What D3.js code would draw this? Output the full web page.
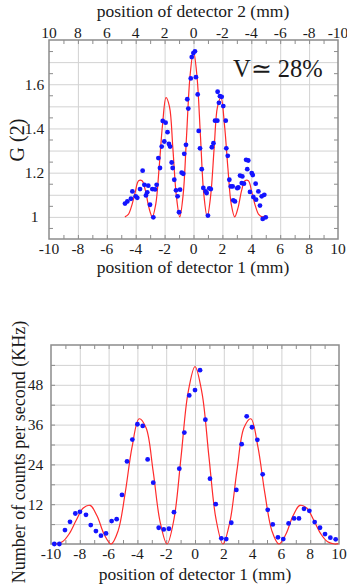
<!DOCTYPE html>
<html>
<head>
<meta charset="utf-8">
<script src="https://cdn.jsdelivr.net/npm/d3@7"></script>
<style>
  body { margin: 0; background: #fff; }
  svg text { font-family: 'Liberation Serif', 'Times New Roman', serif; fill: #1a1a1a; }
</style>
</head>
<body>
<script>
// ---- upper panel: G(2) correlation vs detector position ----
const topDotX = [-4.74, -4.58, -4.33, -4.23, -4.0, -3.89, -3.7, -3.52, -3.4, -3.29, -3.2, -3.13, -3.01, -2.85, -2.78, -2.66, -2.55, -2.43, -2.32, -2.2, -2.13, -2.02, -1.93, -1.8, -1.7, -1.62, -1.51, -1.44, -1.33, -1.21, -1.1, -1.0, -0.93, -0.82, -0.71, -0.64, -0.52, -0.43, -0.36, -0.19, -0.12, -0.01, 0.1, 0.17, 0.29, 0.36, 0.45, 0.57, 0.68, 0.84, 0.91, 1.0, 1.09, 1.2, 1.27, 1.38, 1.49, 1.65, 1.67, 1.76, 1.83, 1.95, 2.06, 2.23, 2.27, 2.37, 2.48, 2.58, 2.71, 2.75, 2.87, 3.03, 3.1, 3.22, 3.34, 3.38, 3.49, 3.64, 3.72, 3.79, 3.91, 4.03, 4.1, 4.14, 4.3, 4.33, 4.49, 4.6, 4.72, 4.79, 4.9, 5.0];
const topDotG = [1.06, 1.07, 1.082, 1.115, 1.093, 1.086, 1.126, 1.209, 1.145, 1.097, 1.111, 1.141, 1.055, 1.126, 0.998, 1.124, 1.145, 1.266, 1.221, 1.318, 1.434, 1.341, 1.426, 1.383, 1.33, 1.318, 1.246, 1.221, 1.168, 1.12, 1.093, 1.021, 1.123, 1.2, 1.195, 1.285, 1.326, 1.532, 1.49, 1.626, 1.723, 1.741, 1.749, 1.632, 1.554, 1.389, 1.31, 1.216, 1.131, 1.115, 1.108, 1.006, 1.129, 1.126, 1.315, 1.333, 1.435, 1.435, 1.566, 1.516, 1.546, 1.543, 1.501, 1.435, 1.31, 1.276, 1.168, 1.138, 1.138, 1.075, 1.07, 1.13, 1.133, 1.187, 1.153, 1.183, 1.15, 1.258, 1.216, 1.255, 1.113, 1.198, 1.189, 1.09, 1.15, 1.078, 1.115, 1.051, 1.093, 0.991, 1.1, 0.998];
const topFitX = [-4.75, -4.51, -4.28, -4.04, -3.8, -3.56, -3.33, -3.09, -2.85, -2.61, -2.38, -2.14, -1.9, -1.66, -1.43, -1.19, -0.95, -0.71, -0.48, -0.24, 0, 0.24, 0.48, 0.71, 0.95, 1.19, 1.43, 1.66, 1.9, 2.14, 2.38, 2.61, 2.85, 3.09, 3.33, 3.56, 3.8, 4.04, 4.28, 4.51, 4.75, 5.0];
const topFitG = [1.0, 1.011, 1.05, 1.11, 1.163, 1.163, 1.12, 1.043, 1.0, 1.058, 1.221, 1.419, 1.539, 1.498, 1.312, 1.097, 1.0, 1.105, 1.367, 1.637, 1.75, 1.637, 1.367, 1.105, 1.0, 1.097, 1.312, 1.498, 1.539, 1.419, 1.221, 1.058, 1.0, 1.043, 1.12, 1.163, 1.163, 1.11, 1.05, 1.011, 1.0, 1.005];
const topLabelsX = [-10, -8, -6, -4, -2, 0, 2, 4, 6, 8, 10];
const topLabelsX2 = [10, 8, 6, 4, 2, 0, -2, -4, -6, -8, -10];
const topLabelsY = [1, 1.2, 1.4, 1.6];

// ---- lower panel: single-detector count rate ----
const botDotX = [-9.77, -9.42, -9.03, -8.68, -8.31, -7.99, -7.57, -7.24, -6.88, -6.53, -6.18, -5.79, -5.44, -5.07, -4.72, -4.35, -4.0, -3.63, -3.29, -2.9, -2.52, -2.17, -1.81, -1.46, -1.09, -0.74, -0.4, 0, 0.35, 0.72, 1.04, 1.44, 1.83, 2.17, 2.52, 2.87, 3.24, 3.59, 3.96, 4.33, 4.7, 5.05, 5.4, 5.76, 6.13, 6.5, 6.88, 7.22, 7.57, 7.94, 8.31, 8.68, 9.03, 9.4, 9.77];
const botDotRate = [0, 0, 4.2, 6.7, 9.2, 9.7, 8.8, 5.7, 3.9, 2.5, 3.2, 6.9, 7.5, 14.8, 24.9, 31.5, 36.1, 35.6, 25.5, 18.5, 4.9, 4.4, 4.6, 9.6, 22.7, 33.6, 44.8, 46.4, 52.4, 37.5, 19.7, 12.0, 1.7, 1.5, 6.4, 16.3, 30.1, 38.5, 35.2, 31.4, 21, 10.3, 5.9, 2.0, 1.5, 6.2, 7.7, 7.7, 10.6, 10, 6.6, 4.9, 3.0, 1.9, 1.4];
const botFitX = [-9.7, -9.21, -8.73, -8.25, -7.76, -7.28, -6.79, -6.31, -5.82, -5.34, -4.85, -4.37, -3.88, -3.4, -2.91, -2.43, -1.94, -1.46, -0.97, -0.49, 0, 0.49, 0.97, 1.46, 1.94, 2.43, 2.91, 3.4, 3.88, 4.37, 4.85, 5.34, 5.82, 6.31, 6.79, 7.28, 7.76, 8.25, 8.73, 9.21, 9.7, 9.95];
const botFitRate = [0, 0.65, 3.12, 7.16, 10.86, 11.63, 8.34, 2.92, 0, 3.96, 15.34, 29.25, 37.76, 35.03, 22.05, 6.85, 0, 7.47, 26.2, 45.43, 53.5, 45.43, 26.2, 7.47, 0, 6.85, 22.05, 35.03, 37.76, 29.25, 15.34, 3.96, 0, 2.92, 8.34, 11.63, 10.86, 7.16, 3.12, 0.65, 0, 0.11];
const botLabelsX = [-10, -8, -6, -4, -2, 0, 2, 4, 6, 8, 10];
const botLabelsY = [12, 24, 36, 48];

const GRID = '#d2d2d2';
const FRAME = '#8c8c8c';
const DOT = '#1414ff';
const FIT = '#ff2b2b';
const TICK_FONT = 15.5;

const svg = d3.select('body')
              .append('svg')
              .attr('width', 347)
              .attr('height', 586);

// draws one framed panel with grid, inner ticks, dots and fit line
const drawPanel = (p) => {
  const x = d3.scaleLinear().domain([-10, 10]).range([p.left, p.right]);
  const y = d3.scaleLinear().domain(p.yDomain).range([p.bottom, p.top]);
  const h = p.bottom - p.top;
  const w = p.right - p.left;
  const g = svg.append('g');

  const clean = (sel) => sel.select('.domain').remove();

  // grid
  g.append('g')
   .attr('transform', 'translate(0,' + p.bottom + ')')
   .call(d3.axisBottom(x).tickValues(d3.range(-8, 9, 2)).tickSize(-h).tickFormat(''))
   .call(clean)
   .selectAll('line').attr('stroke', GRID);
  g.append('g')
   .attr('transform', 'translate(' + p.left + ',0)')
   .call(d3.axisLeft(y).tickValues(p.gridY).tickSize(-w).tickFormat(''))
   .call(clean)
   .selectAll('line').attr('stroke', GRID);

  // small inward ticks on all four sides
  const tickX = d3.range(-9, 10, 1);
  [[d3.axisBottom, p.bottom], [d3.axisTop, p.top]].forEach(([ax, pos]) => {
    g.append('g')
     .attr('transform', 'translate(0,' + pos + ')')
     .call(ax(x).tickValues(tickX).tickSize(-4).tickFormat(''))
     .call(clean)
     .selectAll('line').attr('stroke', FRAME);
  });
  [[d3.axisLeft, p.left], [d3.axisRight, p.right]].forEach(([ax, pos]) => {
    g.append('g')
     .attr('transform', 'translate(' + pos + ',0)')
     .call(ax(y).tickValues(p.minorY).tickSize(-4).tickFormat(''))
     .call(clean)
     .selectAll('line').attr('stroke', FRAME);
  });

  g.append('rect')
   .attr('x', p.left).attr('y', p.top)
   .attr('width', w).attr('height', h)
   .attr('fill', 'none')
   .attr('stroke', FRAME)
   .attr('stroke-width', 1.5);

  // tick labels
  g.selectAll('text.xl')
   .data(p.labelsX)
   .enter().append('text')
   .attr('class', 'xl')
   .attr('x', (d) => x(d))
   .attr('y', p.bottom + 15)
   .attr('text-anchor', 'middle')
   .attr('font-size', TICK_FONT)
   .text((d) => String(d));
  g.selectAll('text.yl')
   .data(p.labelsY)
   .enter().append('text')
   .attr('class', 'yl')
   .attr('x', p.yLabelX)
   .attr('y', (d) => y(d) + 5.5)
   .attr('text-anchor', 'middle')
   .attr('font-size', TICK_FONT)
   .text((d) => String(d));

  // fit
  const line = d3.line()
                 .x((d) => x(d[0]))
                 .y((d) => y(d[1]))
                 .curve(d3.curveCatmullRom.alpha(0.5));
  g.append('path')
   .datum(p.fitX.map((v, i) => [v, p.fitY[i]]))
   .attr('d', line)
   .attr('fill', 'none')
   .attr('stroke', FIT)
   .attr('stroke-width', 1.2);

  // measured points
  g.selectAll('circle')
   .data(p.dotX.map((v, i) => [v, p.dotY[i]]))
   .enter().append('circle')
   .attr('cx', (d) => x(d[0]))
   .attr('cy', (d) => y(d[1]))
   .attr('r', 2.4)
   .attr('fill', DOT);

  return { x, y, g };
};

drawPanel({
  left: 49, right: 338, top: 40, bottom: 239,
  yDomain: [0.9, 1.8],
  gridY: [1.0, 1.1, 1.2, 1.3, 1.4, 1.5, 1.6, 1.7],
  minorY: [0.95, 1.05, 1.15, 1.25, 1.35, 1.45, 1.55, 1.65, 1.75],
  labelsX: topLabelsX, labelsY: topLabelsY, yLabelX: 34.5,
  dotX: topDotX, dotY: topDotG, fitX: topFitX, fitY: topFitG
});

// detector 2 axis runs the other way
const x2 = d3.scaleLinear().domain([10, -10]).range([49, 338]);
svg.selectAll('text.x2')
   .data(topLabelsX2)
   .enter().append('text')
   .attr('class', 'x2')
   .attr('x', (d) => x2(d))
   .attr('y', 37.5)
   .attr('text-anchor', 'middle')
   .attr('font-size', TICK_FONT)
   .text((d) => String(d));

svg.append('text')
   .attr('x', 193).attr('y', 17)
   .attr('text-anchor', 'middle')
   .attr('font-size', 17.5)
   .text('position of detector 2 (mm)');
svg.append('text')
   .attr('x', 193).attr('y', 273)
   .attr('text-anchor', 'middle')
   .attr('font-size', 17.5)
   .text('position of detector 1 (mm)');
svg.append('text')
   .attr('transform', 'translate(24,140) rotate(-90)')
   .attr('text-anchor', 'middle')
   .attr('font-size', 20)
   .text('G (2)');
svg.append('text')
   .attr('x', 233).attr('y', 77)
   .attr('font-size', 24.5)
   .text('V\u2243 28%');

drawPanel({
  left: 51, right: 339, top: 345, bottom: 544,
  yDomain: [0, 60],
  gridY: [6, 12, 18, 24, 30, 36, 42, 48, 54],
  minorY: [6, 12, 18, 24, 30, 36, 42, 48, 54],
  labelsX: botLabelsX, labelsY: botLabelsY, yLabelX: 35.5,
  dotX: botDotX, dotY: botDotRate, fitX: botFitX, fitY: botFitRate
});

svg.append('text')
   .attr('x', 195).attr('y', 580)
   .attr('text-anchor', 'middle')
   .attr('font-size', 17.5)
   .text('position of detector 1 (mm)');
svg.append('text')
   .attr('transform', 'translate(25,452) rotate(-90)')
   .attr('text-anchor', 'middle')
   .attr('font-size', 18)
   .text('Number of counts per second (KHz)');
</script>
</body>
</html>
